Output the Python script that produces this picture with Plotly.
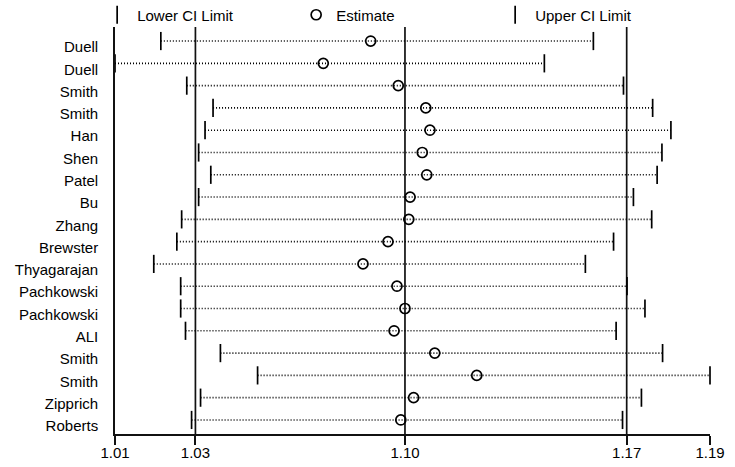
import plotly.graph_objects as go

studies = ["Duell", "Duell", "Smith", "Smith", "Han", "Shen", "Patel", "Bu", "Zhang",
           "Brewster", "Thyagarajan", "Pachkowski", "Pachkowski", "ALI", "Smith", "Smith",
           "Zipprich", "Roberts"]
lower_ci = [1.0208, 1.0065, 1.0289, 1.0371, 1.0346, 1.0326, 1.0364, 1.0326, 1.0273,
            1.0258, 1.0186, 1.0270, 1.0270, 1.0285, 1.0394, 1.0510, 1.0332, 1.0304]
estimate = [1.0863, 1.0715, 1.0949, 1.1035, 1.1048, 1.1024, 1.1038, 1.0986, 1.0982,
            1.0917, 1.0839, 1.0945, 1.0970, 1.0936, 1.1063, 1.1194, 1.0997, 1.0957]
upper_ci = [1.1558, 1.1405, 1.1652, 1.1743, 1.1800, 1.1772, 1.1757, 1.1683, 1.1740,
            1.1621, 1.1533, 1.1663, 1.1719, 1.1629, 1.1774, 1.1922, 1.1708, 1.1649]
overall_lower = 1.0316
overall_estimate = 1.0970
overall_upper = 1.1662

n = len(studies)
ypos = [n - i for i in range(n)]
xmin = min(lower_ci)
xmax = max(upper_ci)
tick_vals = [xmin, overall_lower, overall_estimate, overall_upper, xmax]

FONT = "Liberation Sans, Arial, sans-serif"
fig = go.Figure()

# dotted CI lines
lx, ly = [], []
for lo, up, y in zip(lower_ci, upper_ci, ypos):
    lx += [lo, up, None]
    ly += [y, y, None]
fig.add_trace(go.Scatter(x=lx, y=ly, mode="lines", showlegend=False, hoverinfo="skip",
                         line=dict(color="black", width=1.6, dash="1px,2px"), cliponaxis=False))

fig.add_trace(go.Scatter(x=lower_ci, y=ypos, mode="markers", name="Lower CI Limit",
                         marker=dict(symbol="line-ns", size=13, line=dict(color="black", width=1.7)),
                         cliponaxis=False))
fig.add_trace(go.Scatter(x=estimate, y=ypos, mode="markers", name="Estimate",
                         marker=dict(symbol="circle-open", size=10, color="black",
                                     line=dict(color="black", width=1.7)),
                         cliponaxis=False))
fig.add_trace(go.Scatter(x=upper_ci, y=ypos, mode="markers", name="Upper CI Limit",
                         marker=dict(symbol="line-ns", size=13, line=dict(color="black", width=1.7)),
                         cliponaxis=False))

for v in [overall_lower, overall_estimate, overall_upper]:
    fig.add_shape(type="line", xref="x", yref="paper", x0=v, x1=v, y0=0, y1=1,
                  line=dict(color="#111111", width=1.7), layer="below")

fig.update_layout(
    width=735, height=467,
    margin=dict(l=115, r=25, t=27, b=33, autoexpand=False),
    paper_bgcolor="white", plot_bgcolor="white",
    font=dict(family=FONT, size=15, color="black"),
    legend=dict(orientation="h", x=-0.030, y=1.0295, xanchor="left", yanchor="middle",
                entrywidth=154, entrywidthmode="pixels", font=dict(size=15),
                bgcolor="rgba(0,0,0,0)"),
    xaxis=dict(range=[xmin, xmax], tickvals=tick_vals, tickformat=".2f", automargin=False,
               showgrid=False, zeroline=False, showline=True, linecolor="#111111", linewidth=1.7,
               ticks="outside", ticklen=9, tickwidth=1.7, tickcolor="#111111",
               ticklabelstandoff=-5, tickfont=dict(size=15)),
    yaxis=dict(range=[0.37, n + 0.63], tickvals=ypos, ticktext=studies, automargin=False,
               showgrid=False, zeroline=False, showline=True, linecolor="#111111", linewidth=1.7,
               ticks="", ticklabelstandoff=12, ticklabelshift=6, tickfont=dict(size=15)),
)

fig.write_html("out.html", config={"displayModeBar": False})

# remove the browser's default 8px body margin so the figure fills the window exactly
with open("out.html", "r", encoding="utf-8") as f:
    html = f.read()
html = html.replace("<head>", "<head><style>html,body{margin:0;padding:0;overflow:hidden}</style>", 1)
with open("out.html", "w", encoding="utf-8") as f:
    f.write(html)
